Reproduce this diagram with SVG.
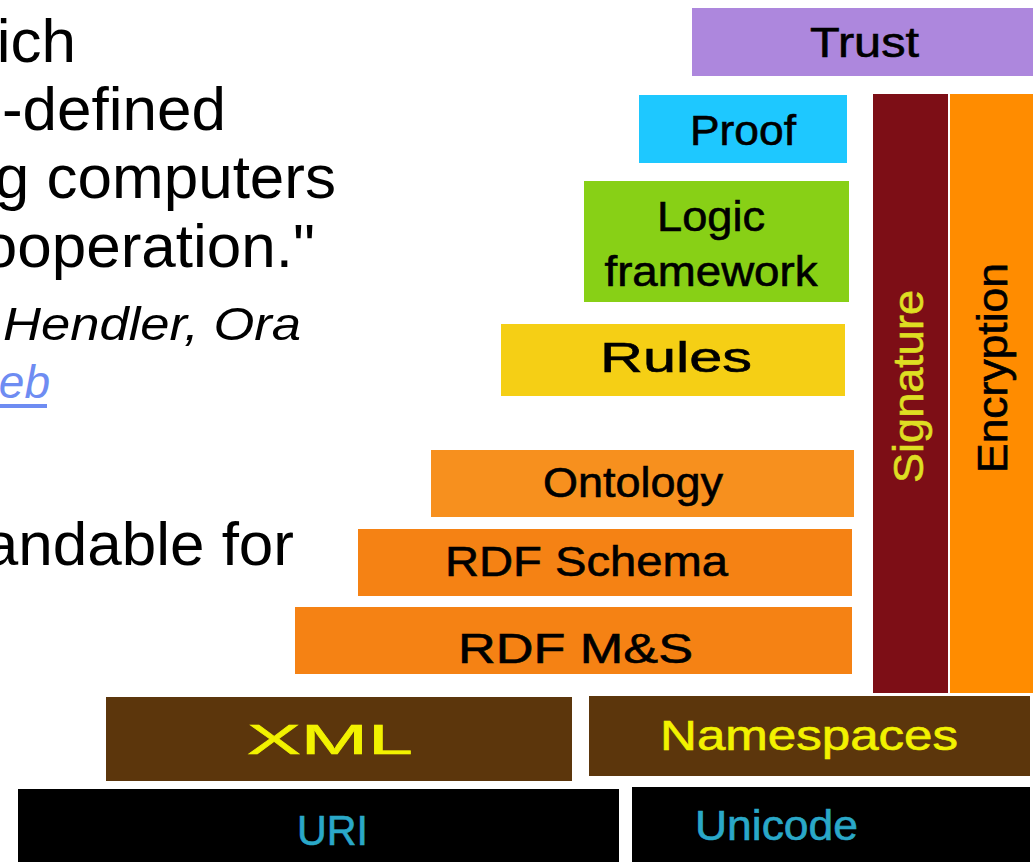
<svg xmlns="http://www.w3.org/2000/svg" width="1033" height="862" viewBox="0 0 1033 862">
  <style>
    .body { font-family: "Liberation Sans", Arial, sans-serif; font-size: 62px; fill: #000; }
    .cite { font-family: "Liberation Sans", Arial, sans-serif; font-size: 46px; font-style: italic; fill: #000; }
    .link { font-family: "Liberation Sans", Arial, sans-serif; font-size: 46px; font-style: italic; fill: #6e8cf2; }
    .lbl { font-family: "Liberation Sans", Arial, sans-serif; font-size: 42px; text-anchor: middle; stroke-width: 0.6px; }
    .dark { fill: #000; stroke: #000; }
    .yel { fill: #f2f200; stroke: #f2f200; }
    .sig { fill: #dede22; stroke: #dede22; }
    .teal { fill: #2aa8c8; stroke: #2aa8c8; }
  </style>

  <!-- body text running in from the left -->
  <g id="quote">
    <text class="body" x="76" y="62" text-anchor="end">ich</text>
    <text class="body" x="226" y="130" text-anchor="end">-defined</text>
    <text class="body" x="336" y="198" text-anchor="end">g computers</text>
    <text class="body" x="315" y="267" text-anchor="end">ooperation."</text>
    <text class="cite" x="3" y="340" textLength="298" lengthAdjust="spacingAndGlyphs">Hendler, Ora</text>
    <text class="link" x="50" y="398" text-anchor="end">eb</text>
    <rect x="0" y="404" width="47" height="4" fill="#6e8cf2"/>
    <text class="body" x="294" y="565" text-anchor="end">andable for</text>
  </g>

  <!-- layer stack -->
  <g id="trust">
    <rect x="692" y="8" width="341" height="68" fill="#ad87dd"/>
    <text class="lbl dark" x="864.5" y="57" textLength="109" lengthAdjust="spacingAndGlyphs">Trust</text>
  </g>
  <g id="proof">
    <rect x="639" y="95" width="208" height="68" fill="#1ec8ff"/>
    <text class="lbl dark" x="743" y="145" textLength="106" lengthAdjust="spacingAndGlyphs">Proof</text>
  </g>
  <g id="logic">
    <rect x="584" y="181" width="265" height="121" fill="#88d016"/>
    <text class="lbl dark" x="711" y="231" textLength="108" lengthAdjust="spacingAndGlyphs">Logic</text>
    <text class="lbl dark" x="711" y="286" textLength="213" lengthAdjust="spacingAndGlyphs">framework</text>
  </g>
  <g id="rules">
    <rect x="501" y="324" width="344" height="72" fill="#f5cf15"/>
    <text class="lbl dark" x="676" y="372" font-size="47" stroke-width="1" textLength="152" lengthAdjust="spacingAndGlyphs">Rules</text>
  </g>
  <g id="ontology">
    <rect x="431" y="450" width="423" height="67" fill="#f7901e"/>
    <text class="lbl dark" x="633" y="497" textLength="180" lengthAdjust="spacingAndGlyphs">Ontology</text>
  </g>
  <g id="rdf-schema">
    <rect x="358" y="529" width="494" height="67" fill="#f58214"/>
    <text class="lbl dark" x="586.5" y="576" textLength="283" lengthAdjust="spacingAndGlyphs">RDF Schema</text>
  </g>
  <g id="rdf-ms">
    <rect x="295" y="607" width="557" height="67" fill="#f58214"/>
    <text class="lbl dark" x="575.5" y="663" textLength="235" lengthAdjust="spacingAndGlyphs">RDF M&amp;S</text>
  </g>
  <g id="signature">
    <rect x="873" y="94" width="75" height="599" fill="#7d0e16"/>
    <text class="lbl sig" transform="translate(923 386.5) rotate(-90)" x="0" y="0" font-size="43" textLength="193" lengthAdjust="spacingAndGlyphs">Signature</text>
  </g>
  <g id="encryption">
    <rect x="950" y="94" width="83" height="599" fill="#ff8c00"/>
    <text class="lbl dark" transform="translate(1007 368) rotate(-90)" x="0" y="0" font-size="44" textLength="210" lengthAdjust="spacingAndGlyphs">Encryption</text>
  </g>
  <g id="xml">
    <rect x="106" y="697" width="466" height="84" fill="#5c360c"/>
    <text class="lbl yel" x="330" y="754" font-size="44" stroke-width="1" textLength="166" lengthAdjust="spacingAndGlyphs">XML</text>
  </g>
  <g id="namespaces">
    <rect x="589" y="696" width="441" height="80" fill="#5c360c"/>
    <text class="lbl yel" x="809" y="750" font-size="44" textLength="298" lengthAdjust="spacingAndGlyphs">Namespaces</text>
  </g>
  <g id="uri">
    <rect x="18" y="789" width="601" height="73" fill="#000"/>
    <text class="lbl teal" x="332.5" y="845" font-size="44" textLength="71" lengthAdjust="spacingAndGlyphs">URI</text>
  </g>
  <g id="unicode">
    <rect x="632" y="787" width="398" height="75" fill="#000"/>
    <text class="lbl teal" x="776.5" y="840" textLength="163" lengthAdjust="spacingAndGlyphs">Unicode</text>
  </g>

  <g id="connectors"/>
</svg>
